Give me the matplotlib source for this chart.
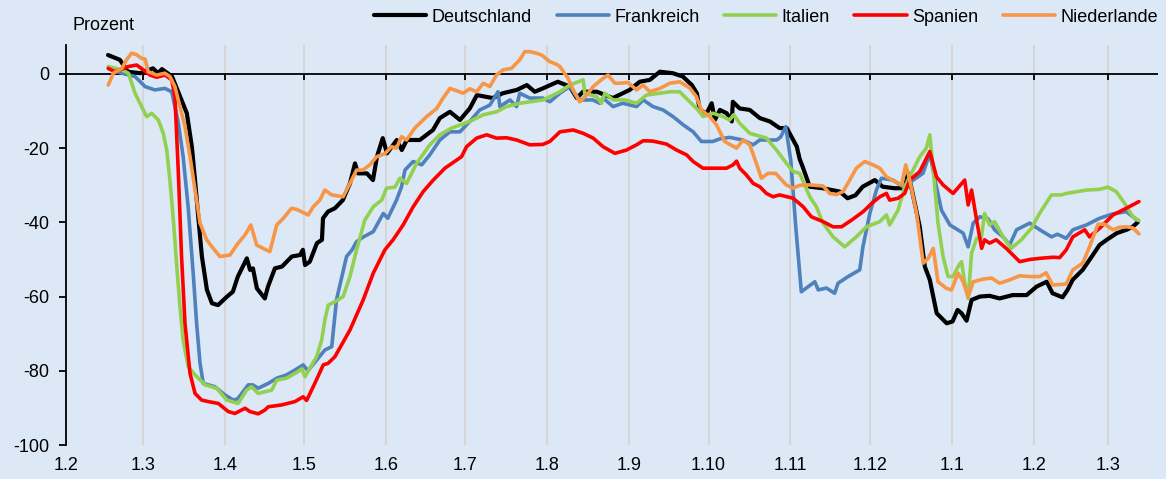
"""
Mobilitaet im Einzelhandel / Freizeit: Abweichung vom Vorkrisenniveau (Prozent).
Werte von Hand aus der Vorlage abgelesen, x = Tage seit 1.2.2020.
"""
import matplotlib
matplotlib.use("Agg")
import matplotlib.pyplot as plt
import pandas as pd

plt.rcParams["font.family"] = ["Liberation Sans", "DejaVu Sans"]
plt.rcParams["axes.unicode_minus"] = False

START = pd.Timestamp("2020-02-01")

de_days = [15.9, 20.4, 23.4, 28.0, 32.9, 34.8, 36.3, 40.1, 43.1, 45.7, 47.6, 48.8, 49.9, 51.4,
           53.3, 55.2, 57.5, 60.9, 63.1, 65.0, 68.4, 69.6, 70.7, 72.2, 75.2, 76.4, 79.0, 81.7,
           85.4, 88.5, 89.6, 90.4, 92.2, 94.9, 96.8, 97.2, 99.1, 101.7, 104.7, 107.4, 109.3,
           110.4, 113.8, 116.1, 117.6, 119.8, 121.4, 125.1, 127.0, 128.9, 133.8, 138.8, 141.4,
           145.2, 149.0, 152.7, 155.4, 161.4, 165.2, 170.5, 174.3, 177.3, 180.3, 186.0, 190.5,
           193.2, 195.5, 200.8, 206.8, 213.2, 217.0, 220.8, 224.6, 229.5, 233.3, 236.7, 238.6,
           239.7, 242.3, 244.2, 245.4, 247.3, 249.9, 251.8, 252.2, 254.8, 258.6, 262.4, 266.2,
           269.9, 272.6, 276.4, 277.5, 278.6, 281.3, 286.2, 292.6, 295.6, 298.6, 301.3, 305.9,
           308.9, 313.4, 317.2, 318.5, 320.2, 322.9, 324.8, 326.7, 329.3, 333.1, 335.3, 337.2,
           338.7, 340.6, 342.5, 345.6, 349.3, 353.1, 358.0, 363.3, 367.1, 370.9, 373.1, 376.9,
           378.8, 380.7, 384.5, 387.1, 390.9, 393.6, 397.4, 401.1, 403.4, 405.3]
de_vals = [5.1, 3.8, 0.6, 0.2, 1.5, 0.2, 1.3, -0.7, -6.0, -10.6, -19.6, -28.6, -37.6, -49.2,
           -58.2, -61.8, -62.3, -60.0, -58.7, -54.6, -49.7, -52.8, -52.4, -57.8, -60.5, -57.3,
           -52.4, -51.9, -49.2, -48.8, -47.4, -51.5, -50.6, -45.6, -44.7, -38.9, -37.1, -36.2,
           -34.0, -29.5, -24.1, -26.8, -26.8, -28.6, -22.3, -17.3, -21.4, -17.8, -20.5, -17.8,
           -17.8, -15.1, -11.9, -10.2, -12.4, -9.3, -5.7, -6.5, -5.2, -4.3, -3.0, -4.8, -3.9,
           -2.1, -3.4, -6.5, -4.8, -4.8, -6.5, -4.3, -2.1, -1.6, 0.6, 0.2, -0.7, -3.0, -5.2,
           -9.7, -10.6, -7.9, -12.4, -9.7, -10.6, -12.8, -7.5, -9.3, -9.7, -11.9, -12.8, -14.6,
           -14.6, -19.6, -23.0, -25.0, -30.4, -30.8, -31.7, -33.5, -32.7, -30.4, -28.6, -30.4,
           -30.8, -30.8, -26.8, -32.2, -41.2, -51.9, -55.5, -64.5, -67.2, -66.7, -63.6, -64.5,
           -66.5, -60.9, -60.0, -59.8, -60.5, -59.6, -59.6, -57.3, -56.0, -59.1, -60.2, -58.2,
           -55.5, -52.8, -50.1, -46.1, -44.7, -42.9, -42.0, -41.2, -40.0]

fr_days = [16.0, 21.1, 26.1, 29.9, 33.6, 37.4, 40.0, 42.5, 44.3, 46.2, 48.1, 49.4, 50.7, 51.9,
           56.3, 60.1, 63.3, 65.0, 68.9, 70.7, 72.7, 76.5, 79.7, 83.4, 86.6, 89.7, 91.5, 94.8,
           97.9, 100.5, 102.3, 106.1, 108.1, 109.9, 112.3, 116.2, 120.0, 121.7, 125.0, 126.9,
           128.2, 131.3, 134.5, 137.6, 141.4, 145.2, 149.0, 152.7, 156.5, 160.3, 163.4, 164.1,
           167.9, 170.4, 171.6, 175.4, 180.3, 183.0, 186.8, 190.5, 194.3, 199.2, 201.9, 203.1,
           206.9, 210.6, 215.8, 218.3, 222.0, 225.8, 229.6, 233.4, 237.2, 240.3, 244.6, 247.3,
           251.0, 255.9, 259.9, 262.4, 268.8, 270.3, 272.2, 274.1, 276.0, 278.1, 283.2, 284.5,
           287.6, 290.7, 292.0, 295.8, 300.2, 301.4, 304.0, 306.5, 308.4, 312.8, 316.6, 320.4,
           324.1, 326.7, 329.2, 331.1, 334.3, 339.3, 341.2, 343.1, 345.6, 348.7, 351.2, 354.4,
           356.9, 359.5, 364.5, 368.3, 372.7, 375.0, 378.3, 380.8, 385.9, 390.9, 396.0, 401.0,
           403.5, 405.4]
fr_vals = [1.5, 0.2, -0.7, -3.4, -4.3, -3.9, -4.8, -13.3, -22.3, -35.8, -53.7, -67.2, -78.0,
           -83.4, -84.3, -86.5, -87.9, -87.5, -83.8, -83.8, -84.7, -83.4, -82.0, -81.1, -79.8,
           -78.4, -80.0, -77.1, -74.4, -73.5, -60.9, -49.2, -47.5, -45.2, -44.0, -42.5, -37.6,
           -38.9, -34.0, -30.4, -25.9, -23.6, -24.5, -21.8, -17.8, -15.6, -15.6, -12.8, -9.7,
           -8.4, -4.8, -8.8, -7.0, -8.8, -5.2, -6.5, -6.5, -7.5, -5.2, -3.4, -7.0, -7.0, -7.9,
           -6.5, -8.8, -7.9, -8.8, -7.0, -8.8, -9.7, -11.5, -13.7, -15.6, -18.2, -18.2, -17.5,
           -17.1, -17.8, -19.1, -17.8, -17.8, -17.0, -14.2, -23.2, -41.2, -58.7, -56.0, -58.2,
           -57.7, -59.1, -56.4, -54.6, -52.8, -46.6, -37.6, -31.3, -28.1, -28.6, -30.4, -28.6,
           -26.8, -21.4, -30.4, -36.7, -40.7, -42.9, -46.6, -40.2, -38.5, -39.0, -42.0, -43.9,
           -46.1, -42.0, -40.2, -42.0, -43.9, -43.2, -44.3, -42.0, -40.7, -38.9, -37.7, -37.1,
           -38.5, -39.5]

it_days = [16.0, 21.1, 23.6, 26.1, 28.0, 30.5, 32.4, 34.9, 36.8, 38.1, 39.3, 40.6, 41.9, 43.1,
           44.3, 46.2, 48.8, 52.6, 57.0, 60.8, 65.1, 68.3, 70.2, 72.7, 77.8, 79.7, 83.4, 87.8,
           89.2, 90.4, 92.2, 94.8, 96.7, 97.9, 99.2, 101.7, 104.8, 107.4, 109.9, 113.0, 116.2,
           119.4, 121.2, 124.4, 126.3, 128.8, 132.6, 137.6, 141.4, 145.8, 152.7, 157.8, 162.8,
           166.6, 171.6, 180.5, 186.8, 190.5, 195.6, 196.2, 200.6, 202.5, 203.8, 206.9, 211.3,
           215.8, 219.5, 224.6, 228.4, 232.1, 235.9, 238.5, 241.0, 244.7, 248.5, 251.0, 252.5,
           254.8, 258.6, 264.9, 268.7, 272.5, 275.0, 277.5, 281.3, 283.8, 286.3, 290.1, 294.5,
           298.9, 302.7, 307.8, 310.3, 311.5, 314.7, 317.2, 319.7, 322.9, 325.4, 326.7, 327.9,
           329.8, 331.7, 333.6, 335.5, 337.4, 338.7, 339.9, 341.2, 342.5, 344.4, 346.2, 347.4,
           349.3, 351.2, 354.4, 357.5, 361.3, 365.1, 368.2, 372.7, 376.4, 378.3, 385.9, 390.9,
           394.1, 397.2, 400.4, 403.5, 405.8]
it_vals = [2.0, 1.1, 0.2, -5.2, -7.9, -11.5, -10.6, -12.4, -16.0, -20.5, -28.6, -39.4, -51.9,
           -62.7, -71.7, -78.9, -81.1, -83.8, -84.7, -87.9, -88.8, -85.2, -84.3, -86.1, -85.2,
           -82.5, -82.0, -80.2, -79.5, -81.6, -79.3, -76.2, -71.7, -66.3, -62.3, -61.4, -60.0,
           -54.6, -47.4, -39.4, -35.8, -34.0, -30.8, -30.5, -28.1, -29.5, -24.1, -19.1, -16.4,
           -14.6, -12.8, -11.0, -10.2, -8.8, -7.9, -7.0, -4.8, -3.0, -1.6, -5.2, -6.1, -7.9,
           -5.2, -7.0, -7.0, -7.9, -5.7, -5.2, -4.8, -4.8, -7.5, -9.3, -11.5, -10.6, -11.5,
           -12.4, -11.0, -13.3, -16.0, -17.3, -20.5, -24.1, -26.3, -26.8, -33.1, -35.8, -40.2,
           -43.9, -46.6, -43.9, -41.2, -39.8, -38.0, -40.7, -36.7, -30.4, -26.8, -22.3, -20.0,
           -16.4, -25.0, -40.2, -49.2, -54.6, -54.6, -51.9, -50.6, -56.4, -60.5, -48.3, -44.3,
           -44.0, -37.6, -40.7, -39.8, -43.9, -47.0, -44.7, -41.6, -37.6, -32.6, -32.6, -32.2,
           -31.3, -31.1, -30.5, -31.7, -34.9, -38.5, -39.5]

es_days = [16.0, 18.5, 23.6, 26.7, 28.3, 31.8, 34.3, 37.4, 40.0, 41.2, 42.5, 43.7, 45.0, 46.9,
           48.8, 51.3, 53.8, 57.6, 61.4, 63.9, 67.7, 69.6, 72.7, 75.2, 76.5, 81.6, 86.6, 89.7,
           91.0, 94.1, 97.3, 99.1, 101.7, 107.4, 112.4, 116.2, 120.6, 123.7, 127.5, 131.3,
           135.1, 138.9, 143.3, 149.6, 151.5, 155.3, 159.1, 162.8, 166.6, 170.4, 175.4, 180.3,
           183.0, 186.8, 191.8, 195.6, 199.4, 203.1, 207.6, 212.0, 215.8, 218.3, 222.0, 227.1,
           230.9, 234.7, 237.2, 240.9, 249.8, 252.3, 253.6, 254.8, 257.3, 259.9, 262.4, 264.9,
           267.4, 269.9, 275.0, 278.8, 281.9, 286.3, 290.1, 293.3, 297.1, 301.5, 304.7, 307.8,
           310.3, 311.5, 314.7, 317.2, 319.1, 322.9, 326.7, 329.2, 331.7, 335.5, 339.9, 341.2,
           342.5, 344.4, 346.3, 347.4, 349.3, 351.8, 355.6, 360.7, 364.5, 368.2, 373.3, 375.8,
           378.3, 380.8, 385.3, 387.1, 390.9, 396.0, 401.0, 405.8]
es_vals = [1.5, 0.6, 2.0, 2.4, 1.6, -0.3, -0.9, -0.3, -1.6, -6.1, -26.8, -49.2, -67.2, -80.7,
           -86.1, -87.9, -88.3, -88.8, -91.0, -91.5, -90.1, -91.0, -91.6, -90.6, -89.7, -89.2,
           -88.3, -87.0, -88.0, -83.4, -78.4, -78.0, -76.2, -69.0, -60.9, -53.7, -47.4, -44.7,
           -40.7, -35.8, -31.7, -28.6, -25.4, -22.3, -19.6, -17.3, -16.4, -17.3, -17.2, -17.8,
           -19.1, -19.0, -18.2, -15.6, -15.1, -16.0, -17.3, -19.6, -21.4, -20.5, -19.1, -18.0,
           -18.1, -18.9, -20.5, -21.8, -23.6, -25.4, -25.4, -24.5, -23.5, -25.4, -27.2, -29.5,
           -30.4, -32.2, -33.1, -32.6, -33.5, -35.8, -38.5, -39.8, -41.2, -41.2, -39.4, -37.1,
           -34.9, -33.1, -32.2, -34.0, -33.5, -32.2, -28.6, -26.3, -20.9, -27.7, -29.9, -32.2,
           -28.6, -35.3, -31.3, -39.4, -47.0, -44.7, -45.6, -44.7, -47.0, -50.6, -50.0, -49.7,
           -49.4, -49.5, -47.4, -43.9, -42.0, -43.9, -41.6, -38.0, -36.2, -34.4]

nl_days = [16.0, 17.9, 21.1, 22.9, 24.8, 26.7, 28.6, 29.9, 31.1, 34.3, 37.4, 39.3, 41.2, 43.1,
           45.0, 46.9, 48.8, 50.7, 53.2, 55.7, 58.2, 62.0, 65.1, 67.7, 69.9, 72.1, 74.5, 77.1,
           79.7, 82.2, 85.3, 87.2, 91.6, 93.5, 96.0, 97.9, 100.5, 104.8, 107.4, 109.9, 112.3,
           114.9, 117.5, 120.6, 123.1, 125.0, 126.9, 128.8, 131.9, 136.4, 140.2, 142.6, 145.2,
           147.7, 150.2, 152.7, 155.3, 157.8, 160.3, 162.8, 165.3, 168.5, 171.6, 173.5, 175.4,
           177.9, 179.9, 183.0, 185.5, 186.8, 189.9, 192.4, 194.3, 196.9, 199.4, 203.1, 205.0,
           207.6, 209.5, 212.5, 215.8, 218.3, 220.8, 224.6, 228.4, 232.1, 235.9, 238.4, 240.3,
           243.5, 246.0, 249.1, 253.6, 256.1, 258.6, 261.1, 263.0, 265.5, 268.4, 272.4, 275.0,
           277.5, 281.3, 286.3, 288.8, 291.4, 293.9, 296.4, 298.9, 302.1, 305.2, 307.8, 310.3,
           313.4, 316.0, 317.6, 319.1, 321.7, 324.2, 326.1, 328.0, 329.8, 333.0, 334.9, 337.4,
           339.3, 341.2, 343.1, 346.9, 350.0, 353.1, 356.9, 360.7, 364.5, 368.2, 370.7, 373.2,
           378.3, 380.8, 384.5, 387.1, 390.3, 392.8, 396.0, 398.5, 401.0, 403.5, 405.8]
nl_vals = [-3.0, 0.2, 1.5, 3.8, 5.6, 5.2, 4.2, 4.0, 0.6, -0.3, 0.2, -0.7, -3.4, -8.8, -14.2,
           -22.3, -31.3, -40.2, -44.7, -47.0, -49.2, -48.8, -45.6, -43.4, -40.7, -46.1, -47.0,
           -47.9, -40.7, -38.9, -36.2, -36.5, -38.0, -35.8, -34.0, -31.3, -32.6, -33.1, -29.5,
           -25.9, -25.9, -24.5, -22.3, -21.5, -19.6, -20.0, -16.9, -17.8, -14.6, -11.5, -9.3,
           -6.5, -3.9, -4.5, -5.2, -4.0, -4.8, -2.5, -3.4, -0.3, 1.1, 1.5, 3.8, 6.0, 6.0, 5.6,
           5.1, 3.3, 2.6, 2.0, -1.2, -5.2, -7.5, -5.7, -3.4, -1.2, -0.3, -2.5, -2.5, -2.3, -4.3,
           -3.0, -4.8, -3.9, -2.5, -2.1, -3.8, -6.1, -9.7, -11.5, -13.7, -18.2, -20.0, -17.8,
           -19.1, -24.1, -28.1, -26.8, -26.8, -29.9, -30.8, -30.0, -29.9, -30.2, -32.2, -32.5,
           -31.7, -28.6, -25.4, -23.6, -24.5, -25.4, -27.7, -29.0, -29.9, -24.5, -28.6, -37.6,
           -51.0, -49.7, -47.0, -56.0, -57.8, -58.2, -53.7, -56.0, -60.0, -56.0, -55.3, -55.0,
           -56.4, -55.5, -54.4, -54.6, -54.6, -53.6, -56.9, -56.6, -52.8, -51.0, -46.6, -40.5,
           -40.5, -42.0, -41.3, -41.2, -41.5, -43.1]

series = [
    ("Deutschland", de_days, de_vals, "#000000", 3.0),
    ("Frankreich", fr_days, fr_vals, "#4f81bd", 2.6),
    ("Italien", it_days, it_vals, "#92d050", 2.6),
    ("Spanien", es_days, es_vals, "#ff0000", 2.6),
    ("Niederlande", nl_days, nl_vals, "#f79646", 2.6),
]

y_ticks = [-100, -80, -60, -40, -20, 0]
month_starts = pd.date_range("2020-02-01", "2021-03-01", freq="MS")
month_days = list((month_starts - START).days)
month_labels = [f"1.{d.month}" for d in month_starts]

FS = 13
bg = "#dce8f6"
fig = plt.figure(figsize=(11.66, 4.79), dpi=100, facecolor=bg)
ax = fig.add_axes([66 / 1166, 34 / 479, 1092 / 1166, 400 / 479], facecolor=bg)

for name, days, vals, color, lw in series:
    ax.plot(days, vals, color=color, lw=lw, label=name, zorder=3,
            solid_joinstyle="round", solid_capstyle="round")

# Nulllinie mit kleinen Monatsstrichen
ax.axhline(0, color="black", lw=1.3, zorder=2)
ax.vlines(month_days, -1.6, 0, color="black", lw=1.3, zorder=2)

ax.set_xlim(0, 413)
ax.set_ylim(-100, 7.8)
ax.set_xticks(month_days)
ax.set_xticklabels(month_labels)
ax.set_yticks(y_ticks)
ax.set_yticklabels([str(v) for v in y_ticks])
ax.grid(axis="x", color="#d6d6d6", lw=1.5, zorder=0)
ax.tick_params(axis="x", length=0, pad=9, labelsize=FS)
ax.tick_params(axis="y", length=5, width=1.3, pad=7, labelsize=FS, direction="out")

for side in ["top", "right", "bottom"]:
    ax.spines[side].set_visible(False)
ax.spines["left"].set_linewidth(1.3)

fig.text(72 / 1166, 1 - 25 / 479, "Prozent", fontsize=FS, va="center", ha="left")

fig.legend(loc="center right", bbox_to_anchor=(1158 / 1166, 1 - 17 / 479), ncol=5,
           frameon=False, fontsize=FS, handlelength=2.9, handletextpad=0.3,
           columnspacing=1.35, borderaxespad=0, borderpad=0)

fig.savefig("out.png", dpi=100, facecolor=bg)
